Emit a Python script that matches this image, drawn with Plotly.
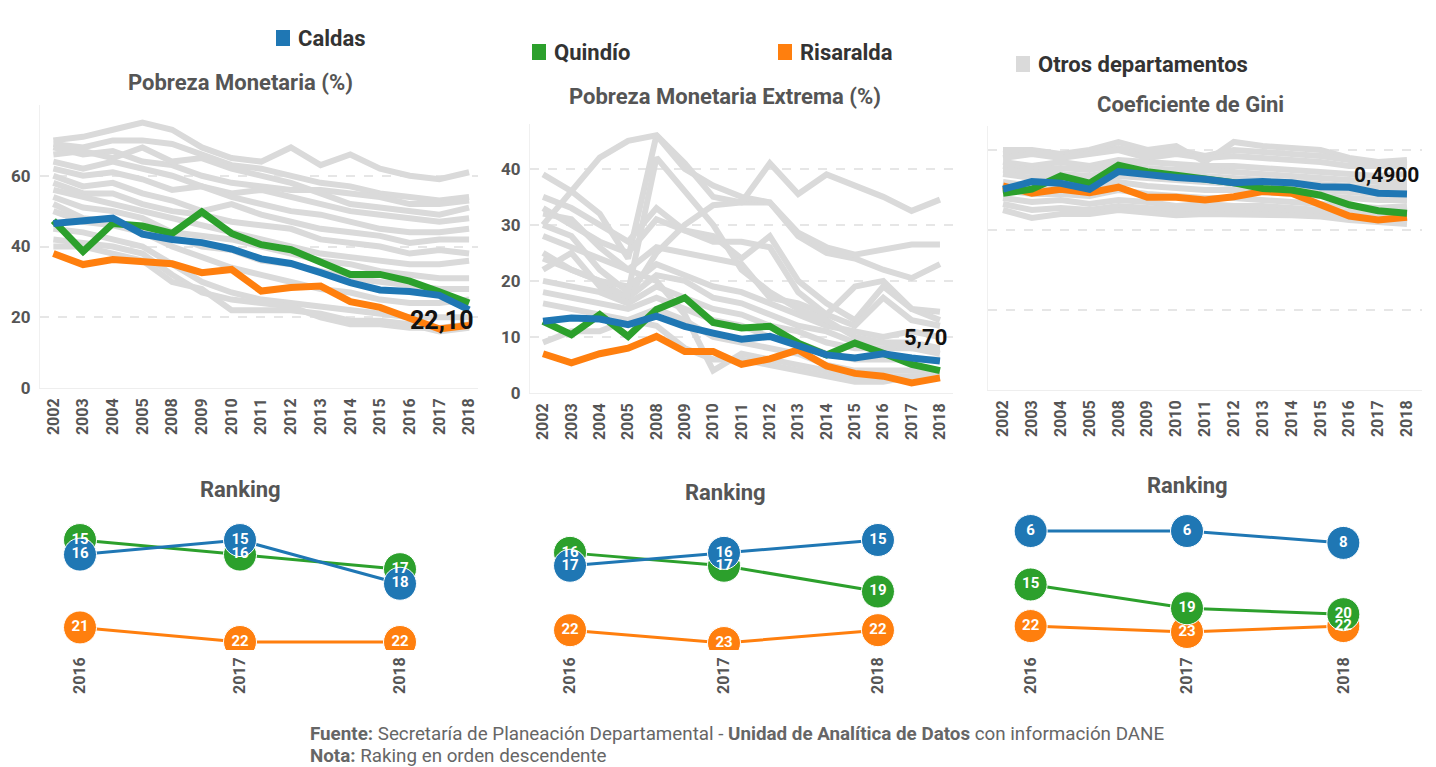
import plotly.graph_objects as go

W, H = 1436, 767

years = ["2002", "2003", "2004", "2005", "2008", "2009", "2010", "2011",
         "2012", "2013", "2014", "2015", "2016", "2017", "2018"]
rank_years = ["2016", "2017", "2018"]

# Pobreza Monetaria (%)
pm_caldas = [46.5, 47.4, 48.0, 43.5, 42.0, 41.1, 39.3, 36.5, 35.2, 32.6, 29.8, 27.7, 27.3, 26.2, 22.1]
pm_quindio = [47.3, 38.6, 46.5, 45.8, 43.7, 49.8, 43.7, 40.5, 39.1, 35.8, 32.1, 32.1, 30.2, 27.2, 24.0]
pm_risaralda = [38.0, 34.9, 36.3, 35.8, 35.1, 32.6, 33.5, 27.4, 28.4, 28.8, 24.4, 22.8, 20.0, 16.7, 17.7]
pm_otros = [
    [70, 71, 73, 75, 73, 68, 65, 64, 68, 63, 66, 62, 60, 59, 61],
    [69, 68, 70, 70, 69, 66, 63, 62, 60, 58, 57, 55, 54, 53, 54],
    [68, 66, 67, 64, 63, 60, 58, 57, 56, 56, 55, 54, 52, 52, 53],
    [66, 67, 65, 68, 64, 65, 62, 60, 58, 55, 52, 51, 50, 49, 51],
    [64, 62, 64, 62, 60, 57, 55, 56, 54, 52, 50, 49, 48, 47, 48],
    [62, 60, 61, 59, 56, 57, 54, 52, 50, 49, 47, 45, 44, 44, 45],
    [60, 57, 58, 55, 53, 50, 52, 49, 47, 45, 44, 43, 41, 42, 42],
    [58, 55, 55, 52, 50, 49, 47, 46, 45, 42, 41, 40, 38, 39, 38],
    [56, 54, 52, 50, 48, 46, 44, 42, 40, 38, 37, 36, 35, 35, 36],
    [54, 51, 50, 48, 44, 43, 42, 40, 38, 36, 35, 33, 32, 31, 31],
    [52, 48, 47, 45, 43, 40, 39, 36, 35, 33, 31, 30, 29, 28, 28],
    [50, 47, 46, 44, 40, 37, 34, 32, 30, 28, 27, 25, 24, 24, 25],
    [45, 44, 42, 40, 35, 30, 27, 25, 24, 23, 22, 21, 20, 20, 20],
    [42, 41, 40, 38, 32, 27, 25, 24, 23, 20, 18, 18, 17, 17, 18],
    [40, 40, 38, 36, 30, 28, 22, 22, 22, 21, 19, 19, 18, 16, 17],
]

# Pobreza Monetaria Extrema (%)
pme_caldas = [12.8, 13.4, 13.2, 12.2, 13.7, 11.9, 10.7, 9.6, 10.1, 8.6, 6.8, 6.25, 7.0, 6.25, 5.7]
pme_quindio = [12.8, 10.4, 14.0, 10.1, 14.9, 17.0, 12.6, 11.6, 11.9, 8.9, 6.8, 8.9, 7.1, 5.1, 4.0]
pme_risaralda = [7.0, 5.4, 7.0, 8.0, 10.1, 7.4, 7.4, 5.1, 6.1, 7.7, 4.8, 3.5, 3.0, 1.8, 2.7]
pme_otros = [
    [39, 36, 32, 24, 46, 41, 35, 34, 34, 28, 25, 24, 22, 20.5, 23],
    [30, 36, 42, 45, 46, 40, 37, 35, 34, 28.6, 26, 24.7, 25.6, 26.5, 26.5],
    [25, 22, 20, 17, 25, 30, 33.5, 34, 41, 35.5, 39, 37, 35, 32.5, 34.5],
    [35, 33, 30, 27, 33, 29, 28, 24, 28, 20, 16, 13, 19, 15, 14.5],
    [33, 30, 27, 25, 31, 29, 27, 27, 26, 18, 14, 19, 20, 15, 13],
    [28, 26, 24, 22, 26, 25, 24, 23, 17, 16, 14, 12, 17, 13, 12],
    [24, 22, 20, 19, 23, 21, 19, 18, 16, 14, 12, 11, 10, 11, 10],
    [22, 25, 19, 17, 21, 20, 17, 16, 14, 12, 11, 9, 9, 9, 8],
    [20, 19, 18, 16, 19, 17, 15, 14, 12, 11, 9, 8, 8, 8, 7],
    [18, 17, 16, 15, 17, 15, 13, 12, 10, 9, 7, 6, 6, 6, 6],
    [16, 15, 14, 13, 15, 13, 10, 9, 8, 7, 5, 4, 4, 4, 4],
    [32, 31, 26, 22, 20, 14, 4, 7, 6, 5, 4, 3, 3, 3, 3],
    [9, 11, 11, 13, 12, 8, 6, 6, 5, 4, 3, 2, 2, 3, 3],
    [30, 28, 22, 18, 42, 36, 30, 22, 18, 15, 13, 10, 9, 8, 8],
]

# Coeficiente de Gini
gini_caldas = [0.502, 0.521, 0.517, 0.502, 0.546, 0.537, 0.531, 0.527, 0.518, 0.521, 0.518, 0.508, 0.507, 0.492, 0.490]
gini_quindio = [0.492, 0.502, 0.535, 0.517, 0.562, 0.546, 0.537, 0.529, 0.518, 0.504, 0.500, 0.487, 0.463, 0.448, 0.442]
gini_risaralda = [0.510, 0.492, 0.502, 0.493, 0.507, 0.482, 0.482, 0.475, 0.483, 0.496, 0.492, 0.463, 0.435, 0.425, 0.432]
gini_otros = [
    [0.600, 0.600, 0.590, 0.600, 0.620, 0.600, 0.610, 0.570, 0.620, 0.610, 0.605, 0.600, 0.580, 0.570, 0.575],
    [0.590, 0.595, 0.585, 0.595, 0.605, 0.590, 0.600, 0.585, 0.600, 0.595, 0.590, 0.585, 0.575, 0.565, 0.570],
    [0.580, 0.590, 0.580, 0.590, 0.600, 0.580, 0.590, 0.580, 0.585, 0.580, 0.575, 0.570, 0.560, 0.560, 0.560],
    [0.570, 0.560, 0.570, 0.560, 0.575, 0.570, 0.565, 0.560, 0.560, 0.555, 0.550, 0.545, 0.540, 0.535, 0.540],
    [0.560, 0.550, 0.555, 0.550, 0.565, 0.555, 0.550, 0.550, 0.545, 0.540, 0.535, 0.530, 0.525, 0.520, 0.520],
    [0.550, 0.545, 0.540, 0.535, 0.550, 0.540, 0.540, 0.535, 0.530, 0.525, 0.520, 0.515, 0.510, 0.505, 0.505],
    [0.540, 0.530, 0.530, 0.520, 0.535, 0.530, 0.525, 0.520, 0.515, 0.510, 0.505, 0.500, 0.495, 0.490, 0.490],
    [0.520, 0.510, 0.515, 0.510, 0.520, 0.510, 0.505, 0.500, 0.500, 0.495, 0.490, 0.485, 0.480, 0.475, 0.475],
    [0.500, 0.490, 0.490, 0.485, 0.500, 0.490, 0.485, 0.480, 0.480, 0.475, 0.470, 0.465, 0.460, 0.455, 0.460],
    [0.480, 0.470, 0.475, 0.465, 0.475, 0.470, 0.460, 0.465, 0.460, 0.460, 0.455, 0.450, 0.445, 0.440, 0.445],
    [0.465, 0.450, 0.455, 0.450, 0.460, 0.455, 0.450, 0.452, 0.450, 0.450, 0.447, 0.442, 0.435, 0.430, 0.430],
    [0.450, 0.430, 0.440, 0.440, 0.450, 0.445, 0.437, 0.440, 0.440, 0.440, 0.437, 0.434, 0.425, 0.420, 0.415],
]

# Rankings (2016, 2017, 2018)
rk_pm_caldas, rk_pm_quindio, rk_pm_risaralda = [16, 15, 18], [15, 16, 17], [21, 22, 22]
rk_pme_caldas, rk_pme_quindio, rk_pme_risaralda = [17, 16, 15], [16, 17, 19], [22, 23, 22]
rk_gini_caldas, rk_gini_quindio, rk_gini_risaralda = [6, 6, 8], [15, 19, 20], [22, 23, 22]

BLUE, GREEN, ORANGE, GRAY = "#1f77b4", "#2ca02c", "#ff7f0e", "#dadada"
FONT = "Roboto"
TICK_COLOR = "#555555"


def PX(x):
    return x / W


def PY(y):
    return 1 - y / H


fig = go.Figure()


def main_panel(idx, otros, orange, green, blue, gray_w, col_w):
    xa = "x" if idx == 1 else f"x{idx}"
    ya = "y" if idx == 1 else f"y{idx}"
    for row in otros:
        fig.add_trace(go.Scatter(x=years, y=row, mode="lines", xaxis=xa, yaxis=ya,
                                 line=dict(color=GRAY, width=gray_w), showlegend=False,
                                 hoverinfo="skip"))
    for vals, col in ((orange, ORANGE), (green, GREEN), (blue, BLUE)):
        fig.add_trace(go.Scatter(x=years, y=vals, mode="lines", xaxis=xa, yaxis=ya,
                                 line=dict(color=col, width=col_w), showlegend=False))


def rank_panel(idx, orange, green, blue):
    xa = f"x{idx}"
    ya = f"y{idx}"
    series = ((orange, ORANGE), (green, GREEN), (blue, BLUE))
    for vals, col in series:
        fig.add_trace(go.Scatter(
            x=rank_years, y=vals, mode="lines+markers", xaxis=xa, yaxis=ya,
            line=dict(color=col, width=3),
            marker=dict(size=33, color=col, line=dict(color="white", width=1)),
            showlegend=False))
    for vals, col in series:
        fig.add_trace(go.Scatter(
            x=rank_years, y=vals, mode="text", xaxis=xa, yaxis=ya,
            text=[str(v) for v in vals], textposition="middle center",
            textfont=dict(family=FONT, size=15, color="white", weight="bold"),
            showlegend=False, hoverinfo="skip"))


main_panel(1, pm_otros, pm_risaralda, pm_quindio, pm_caldas, 6, 7)
main_panel(2, pme_otros, pme_risaralda, pme_quindio, pme_caldas, 6, 7)
main_panel(3, gini_otros, gini_risaralda, gini_quindio, gini_caldas, 6, 7)
rank_panel(4, rk_pm_risaralda, rk_pm_quindio, rk_pm_caldas)
rank_panel(5, rk_pme_risaralda, rk_pme_quindio, rk_pme_caldas)
rank_panel(6, rk_gini_risaralda, rk_gini_quindio, rk_gini_caldas)

xtickfont = dict(family=FONT, size=16, color=TICK_COLOR, weight="bold")
ytickfont = dict(family=FONT, size=17, color=TICK_COLOR, weight="bold")


def xaxis_cfg(x0, x1, rng):
    return dict(type="category", domain=[PX(x0), PX(x1)], range=rng, showgrid=False,
                tickangle=-90, tickfont=xtickfont, ticks="", showline=True,
                linecolor="#eeeeee", linewidth=1, zeroline=False, fixedrange=True,
                automargin=False, ticklabelstandoff=3)


def yaxis_cfg(y_top, y_bot, rng, anchor, **kw):
    d = dict(domain=[PY(y_bot), PY(y_top)], range=rng, anchor=anchor,
             tickfont=ytickfont, ticks="", zeroline=False, fixedrange=True,
             automargin=False, ticklabelstandoff=5)
    d.update(kw)
    return d


grid = dict(showgrid=True, gridcolor="#e6e6e6", gridwidth=2, griddash="dash",
            showline=True, linecolor="#f0f0f0", linewidth=1)

layout_axes = dict(
    xaxis=dict(xaxis_cfg(40, 478, [-0.45, 14.3]), anchor="y"),
    yaxis=yaxis_cfg(105, 388, [0, 80], "x", tickvals=[0, 20, 40, 60, 80],
                    ticktext=["0", "20", "40", "60", ""], **grid),
    xaxis2=dict(xaxis_cfg(530, 953, [-0.46, 14.46]), anchor="y2"),
    yaxis2=yaxis_cfg(124, 393, [0, 48], "x2", tickvals=[0, 10, 20, 30, 40], **grid),
    xaxis3=dict(xaxis_cfg(988, 1422, [-0.52, 14.52]), anchor="y3"),
    yaxis3=yaxis_cfg(126, 390, [0, 0.66], "x3", tickvals=[0, 0.2, 0.4, 0.6],
                     showticklabels=False, **grid),
    xaxis4=dict(xaxis_cfg(40, 440, [-0.25, 2.25]), anchor="y4", showline=False),
    yaxis4=yaxis_cfg(515, 650, [22.55, 13.28], "x4", showgrid=False, showticklabels=False),
    xaxis5=dict(xaxis_cfg(530, 918, [-0.26, 2.26]), anchor="y5", showline=False),
    yaxis5=yaxis_cfg(515, 650, [23.54, 13.06], "x5", showgrid=False, showticklabels=False),
    xaxis6=dict(xaxis_cfg(990, 1384, [-0.26, 2.26]), anchor="y6", showline=False),
    yaxis6=yaxis_cfg(510, 650, [26.03, 2.46], "x6", showgrid=False, showticklabels=False),
)

annotations = []


def txt(x, y, text, size, color, bold=True, xanchor="center"):
    annotations.append(dict(x=PX(x), y=PY(y), xref="paper", yref="paper", text=text,
                            showarrow=False, xanchor=xanchor, yanchor="middle",
                            font=dict(family=FONT, size=size, color=color,
                                      weight="bold" if bold else "normal")))


# Panel titles
txt(240, 82, "Pobreza Monetaria (%)", 22, "#555555")
txt(725, 97, "Pobreza Monetaria Extrema (%)", 22, "#555555")
txt(1190, 105, "Coeficiente de Gini", 22, "#555555")
txt(240, 489, "Ranking", 22, "#555555")
txt(725, 492, "Ranking", 22, "#555555")
txt(1187, 485, "Ranking", 22, "#555555")

# Legend
legend_items = [(283, 38, BLUE, "Caldas"), (539, 52, GREEN, "Quindío"),
                (785, 52, ORANGE, "Risaralda"), (1023, 64, GRAY, "Otros departamentos")]
shapes = []
for cx, cy, col, name in legend_items:
    shapes.append(dict(type="rect", xref="paper", yref="paper",
                       x0=PX(cx - 7), x1=PX(cx + 7), y0=PY(cy + 8), y1=PY(cy - 8),
                       fillcolor=col, line=dict(width=0)))
    txt(cx + 13, cy, name, 22, "#333333", xanchor="left")

# Value labels on last points (x given as category index of the last year)
last = len(years) - 1
annotations.append(dict(x=last, y=pm_caldas[-1], xref="x", yref="y", text="22,10",
                        showarrow=False, xanchor="right", yanchor="middle", xshift=7, yshift=-11,
                        font=dict(family=FONT, size=25, color="#111111", weight="bold")))
annotations.append(dict(x=last, y=pme_caldas[-1], xref="x2", yref="y2", text="5,70",
                        showarrow=False, xanchor="right", yanchor="middle", xshift=9, yshift=24,
                        font=dict(family=FONT, size=22, color="#111111", weight="bold")))
annotations.append(dict(x=last, y=gini_caldas[-1], xref="x3", yref="y3", text="0,4900",
                        showarrow=False, xanchor="right", yanchor="middle", xshift=14, yshift=19,
                        font=dict(family=FONT, size=21, color="#111111", weight="bold")))

# Footer
annotations.append(dict(x=PX(308), y=PY(734), xref="paper", yref="paper", showarrow=False,
                        xanchor="left", yanchor="middle",
                        text="<b>Fuente:</b> Secretaría de Planeación Departamental - "
                             "<b>Unidad de Analítica de Datos</b> con información DANE",
                        font=dict(family=FONT, size=18.8, color="#666666")))
annotations.append(dict(x=PX(308), y=PY(756), xref="paper", yref="paper", showarrow=False,
                        xanchor="left", yanchor="middle",
                        text="<b>Nota:</b> Raking en orden descendente",
                        font=dict(family=FONT, size=18.8, color="#666666")))

fig.update_layout(
    width=W, height=H, autosize=False,
    margin=dict(l=0, r=0, t=0, b=0, autoexpand=False),
    paper_bgcolor="white", plot_bgcolor="white",
    font=dict(family=FONT),
    showlegend=False,
    annotations=annotations,
    shapes=shapes,
    **layout_axes,
)

fig.write_html("out.html", config={"displayModeBar": False},
               post_script="document.body.style.margin='0';document.body.style.overflow='hidden';")
